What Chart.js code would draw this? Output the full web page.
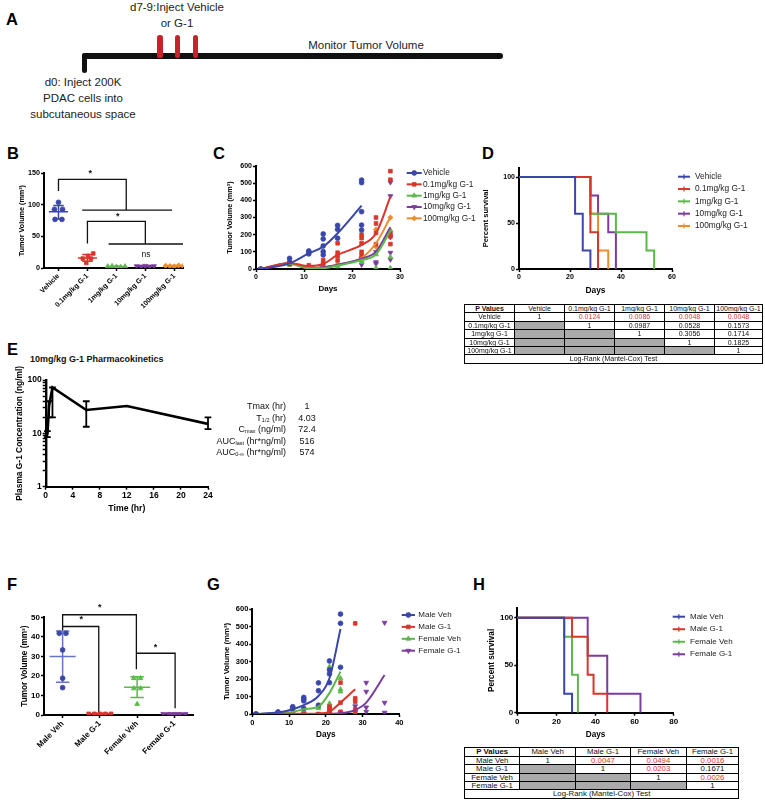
<!DOCTYPE html>
<html><head><meta charset="utf-8">
<title>G-1 PDAC figure</title>
<script src="https://cdn.jsdelivr.net/npm/chart.js@4.4.1/dist/chart.umd.min.js"></script>
<style>
html,body{margin:0;padding:0;background:#fff;}
body{position:relative;width:765px;height:809px;overflow:hidden;font-family:"Liberation Sans",Arial,Helvetica,sans-serif;color:#111;}
canvas{position:absolute;}
.L{position:absolute;font-weight:bold;font-size:16.5px;line-height:17px;color:#000;}
.txt{position:absolute;font-size:11.5px;line-height:16px;text-align:center;white-space:nowrap;color:#222;}
.bar{position:absolute;background:#111;border-radius:3px;}
.red{position:absolute;background:#c8232c;border-radius:2.6px;}
.cell{position:absolute;box-sizing:border-box;border:1px solid #000;text-align:center;white-space:nowrap;overflow:hidden;color:#111;background:#fff;}
.st{position:absolute;font-size:9px;line-height:11.4px;white-space:nowrap;color:#111;}
.st sub{font-size:5.5px;line-height:0;vertical-align:-1px;}
.ttl{position:absolute;font-weight:bold;font-size:9px;white-space:nowrap;color:#111;}
</style></head><body>

<!-- Panel A schematic -->
<div class="L" style="left:6px;top:10.5px">A</div>
<div class="txt" style="left:117px;top:-0.7px;width:120px">d7-9:Inject Vehicle<br>or G-1</div>
<div class="txt" style="left:306px;top:37px;width:120px">Monitor Tumor Volume</div>
<div class="txt" style="left:23px;top:73.6px;width:120px;line-height:16.3px">d0: Inject 200K<br>PDAC cells into<br>subcutaneous space</div>
<div class="bar" style="left:81.7px;top:53.3px;width:421.6px;height:5.7px"></div>
<div class="bar" style="left:81.7px;top:53.3px;width:5.6px;height:20px"></div>
<div class="red" style="left:157.3px;top:35px;width:5.3px;height:23.3px"></div>
<div class="red" style="left:175px;top:35px;width:5.3px;height:23.3px"></div>
<div class="red" style="left:192.7px;top:35px;width:5.3px;height:23.3px"></div>

<div class="L" style="left:7px;top:145px">B</div>
<div class="L" style="left:213px;top:145px">C</div>
<div class="L" style="left:482px;top:145px">D</div>
<div class="L" style="left:7px;top:341px">E</div>
<div class="ttl" style="left:30px;top:354px">10mg/kg G-1 Pharmacokinetics</div>
<div class="L" style="left:7px;top:576px">F</div>
<div class="L" style="left:207px;top:576px">G</div>
<div class="L" style="left:473px;top:576px">H</div>

<script>
// ---------------- DATA ----------------
// Panel B
const bGroups = ['Vehicle', '0.1mg/kg G-1', '1mg/kg G-1', '10mg/kg G-1', '100mg/kg G-1'];
const bVehicle = [104, 93, 93, 77, 77];
const bG01 = [23, 19, 15, 15, 8];
const bG1 = [2.5, 3, 2, 1.5, 2.5];
const bG10 = [3, 2.5, 3.5, 2.5, 3];
const bG100 = [3.5, 3, 2.5, 4, 3];
const bMean = [89, 16, 2.3, 2.9, 3.2];
const bSdHi = [99, 21.5, 3, 3.5, 4];
const bSdLo = [77.5, 10.5, 1.6, 2.3, 2.4];
const bTicks = [0, 50, 100, 150];
const bBrackets = [
  [[0, 122], [0, 140.5], [2.34, 140.5], [2.34, 91.6]],
  [[0.82, 91.6], [3.92, 91.6]],
  [[1, 39], [1, 74], [3, 74], [3, 38]],
  [[1.73, 38], [4.3, 38]]
];
const bMarks = [['*', 1.1, 149.5], ['*', 2.05, 82], ['ns', 3.02, 20.5]];

// Panel C
const cDays = [1, 7, 11, 14, 17, 22, 25, 28];
const cTicksX = [0, 10, 20, 30];
const cTicksY = [0, 100, 200, 300, 400, 500, 600];
const cFitVehicle = [0, 33, 91, 130, 208, 369, null, null];
const cFit01 = [0, 35, 17, 29, 82, 140, 208, 421];
const cFit1 = [0, 30, 5, 5, 20, 52, 85, 223];
const cFit10 = [0, 33, 5, 10, 25, 60, 101, 243];
const cFit100 = [0, 30, 5, 10, 25, 65, 150, 301];
const cPtsVehicle = [[0], [62, 38, 33], [105, 98, 88], [204, 175, 134, 101, 82], [254, 231, 179], [518, 503, 334, 256, 227], [], []];
const cPts01 = [[0], [40, 28], [22, 10], [52, 35, 20, 8], [150, 95, 75, 50], [200, 180, 150, 100, 80], [300, 265, 210, 145], [570, 520, 205, 190, 145]];
const cPts1 = [[0], [30, 25], [3], [5], [15], [50, 40], [85, 5], [225, 70, 5]];
const cPts10 = [[0], [35], [5], [8], [20], [60, 25], [100, 40, 30], [505, 425, 185, 95, 55]];
const cPts100 = [[0], [30], [5], [10], [25], [70], [230, 130], [300, 220]];
const cLabels = ['Vehicle', '0.1mg/kg G-1', '1mg/kg G-1', '10mg/kg G-1', '100mg/kg G-1'];

// Panel D (Kaplan-Meier)
const dTicksX = [0, 20, 40, 60];
const survTicks = [0, 50, 100];
const dVehT = [0, 22, 25, 28], dVehS = [100, 60, 20, 0];
const d01T = [0, 28, 31], d01S = [100, 40, 0];
const d1T = [0, 28, 38, 50, 53], d1S = [100, 60, 40, 20, 0];
const d10T = [0, 28, 31, 35, 38], d10S = [100, 80, 60, 40, 0];
const d100T = [0, 28, 31, 35], d100S = [100, 60, 20, 0];
const dHeader = ['P Values', 'Vehicle', '0.1mg/kg G-1', '1mg/kg G-1', '10mg/kg G-1', '100mg/kg G-1'];
const dRows = [
  ['Vehicle', '1', '0.0124', '0.0086', '0.0048', '0.0048'],
  ['0.1mg/kg G-1', '', '1', '0.0987', '0.0528', '0.1573'],
  ['1mg/kg G-1', '', '', '1', '0.3056', '0.1714'],
  ['10mg/kg G-1', '', '', '', '1', '0.1825'],
  ['100mg/kg G-1', '', '', '', '', '1']
];
const testName = 'Log-Rank (Mantel-Cox) Test';

// Panel E (PK)
const eTime = [0.25, 0.5, 1, 6, 12, 24];
const eConc = [9.5, 33, 72.4, 27.4, 32.5, 15];
const eSdLo = [8.5, 20, 20, 13.3, null, 12];
const eSdHi = [11, 40, 72.4, 40, null, 20];
const eTicksX = [0, 4, 8, 12, 16, 20, 24];
const eTicksY = [1, 2, 3, 4, 5, 6, 7, 8, 9, 10, 20, 30, 40, 50, 60, 70, 80, 90, 100];
const eTickLabels = [1, 10, 100];
const eStatLabels = ['Tmax (hr)', 'T<sub>1/2</sub> (hr)', 'C<sub>max</sub> (ng/ml)', 'AUC<sub>last</sub> (hr*ng/ml)', 'AUC<sub>0-∞</sub> (hr*ng/ml)'];
const eStatValues = ['1', '4.03', '72.4', '516', '574'];

// Panel F
const fGroups = ['Male Veh', 'Male G-1', 'Female Veh', 'Female G-1'];
const fMaleVeh = [41.8, 41.8, 33.3, 18.8, 14];
const fMaleG1 = [0.6, 0.6, 0.6, 0.6, 0.6];
const fFemaleVeh = [18.8, 18.8, 13.6, 13.6, 5.6];
const fFemaleG1 = [0.6, 0.6, 0.6, 0.6, 0.6];
const fMean = [29.9, 0.6, 14.2, 0.6];
const fSdHi = [43, 0.9, 19.6, 0.9];
const fSdLo = [16.7, 0.3, 9, 0.3];
const fTicks = [0, 10, 20, 30, 40, 50];
const fBrackets = [
  [[0, 43.2], [0, 45.3], [0.97, 45.3], [0.97, 0.5]],
  [[0, 45.3], [0, 51.3], [1.98, 51.3], [1.98, 23.4]],
  [[1.98, 31.6], [3.02, 31.6], [3.02, 3.4]]
];
const fMarks = [['*', 0.5, 49], ['*', 1.0, 55], ['*', 2.49, 34.7]];

// Panel G
const gDays = [1, 7, 11, 14, 18, 21, 24, 28, 31, 36];
const gTicksX = [0, 10, 20, 30, 40];
const gTicksY = [0, 100, 200, 300, 400, 500, 600];
const gFitMaleVeh = [0, 8, 27, 51, 103, 204, 486, null, null, null];
const gFitMaleG1 = [0, 3, 1, 1, 2, 13, 65, 141, null, null];
const gFitFemaleVeh = [0, 5, 12, 27, 42, 120, 242, null, null, null];
const gFitFemaleG1 = [0, 1, 0, 0, 0, 1, 4, 23, 65, 223];
const gPtsMaleVeh = [[0], [12, 8], [42, 35, 30], [95, 85, 75, 32], [178, 133, 50], [303, 252, 229, 179], [571, 518, 267], [], [], []];
const gPtsMaleG1 = [[0], [5], [0], [0], [0], [42, 29, 19, 4], [179, 65, 13, 4], [518, 90, 71, 27, 8], [], []];
const gPtsFemaleVeh = [[0], [5], [10], [20], [42, 33], [270, 60, 45], [204, 141, 128], [], [], []];
const gPtsFemaleG1 = [[0], [0], [0], [0], [0], [0], [5], [45, 10], [179, 128, 38, 13], [522, 65, 8]];
const gLabels = ['Male Veh', 'Male G-1', 'Female Veh', 'Female G-1'];

// Panel H
const hTicksX = [0, 20, 40, 60, 80];
const hMaleVehT = [0, 24, 28], hMaleVehS = [100, 20, 0];
const hMaleG1T = [0, 28, 36, 39, 46], hMaleG1S = [100, 80, 40, 20, 0];
const hFemVehT = [0, 24, 28, 31], hFemVehS = [100, 80, 40, 0];
const hFemG1T = [0, 36, 46, 63], hFemG1S = [100, 60, 20, 0];
const hHeader = ['P Values', 'Male Veh', 'Male G-1', 'Female Veh', 'Female G-1'];
const hRows = [
  ['Male Veh', '1', '0.0047', '0.0494', '0.0016'],
  ['Male G-1', '', '1', '0.0203', '0.1671'],
  ['Female Veh', '', '', '1', '0.0026'],
  ['Female G-1', '', '', '', '1']
];

// ---------------- STYLE ----------------
const FF = '"Liberation Sans", Arial, Helvetica, sans-serif';
const STY = {
  blue:   {c: '#3a46a8', p: 'circle',   r: 2.4, rot: 0},
  red:    {c: '#d9362b', p: 'rect',     r: 2.6, rot: 0},
  green:  {c: '#5cb84a', p: 'triangle', r: 2.8, rot: 0},
  purple: {c: '#7b3c9e', p: 'triangle', r: 2.8, rot: 180},
  orange: {c: '#ee8c2a', p: 'rectRot',  r: 2.6, rot: 0}
};
const jitVeh = [0, -0.14, 0.14, -0.12, 0.12];
const jit01 = [0.2, 0.02, -0.16, 0.12, -0.04];
const jitLow = [-0.3, -0.15, 0, 0.15, 0.3];
const jitPair = [-0.09, 0.09, 0, 0, 0];
const jitPair2 = [-0.09, 0.09, -0.09, 0.09, 0];

Chart.defaults.font.family = FF;
Chart.defaults.color = '#000';

const extras = {
  id: 'extras',
  afterDatasetsDraw(chart, args, o) {
    const ctx = chart.ctx, xs = chart.scales.x, ys = chart.scales.y;
    ctx.save();
    (o.marks || []).forEach(m => {
      ctx.font = m[0] === 'ns' ? `8.5px ${FF}` : `bold 9px ${FF}`;
      ctx.fillStyle = '#111'; ctx.textAlign = 'center'; ctx.textBaseline = 'middle';
      ctx.fillText(m[0], xs.getPixelForValue(m[1]), ys.getPixelForValue(m[2]));
    });
    const L = o.legend;
    if (L) {
      L.items.forEach((it, i) => {
        const y = L.y + i * L.dy, st = it.style;
        ctx.strokeStyle = st.c; ctx.fillStyle = st.c; ctx.lineWidth = 2;
        ctx.beginPath(); ctx.moveTo(L.x, y); ctx.lineTo(L.x + L.len, y); ctx.stroke();
        const cx = L.x + L.len / 2;
        if (L.tick) {
          ctx.lineWidth = 1.2; ctx.beginPath(); ctx.moveTo(cx, y - 2.5); ctx.lineTo(cx, y + 2.5); ctx.stroke();
        } else if (Chart.helpers && Chart.helpers.drawPoint) {
          ctx.lineWidth = 0.8;
          Chart.helpers.drawPoint(ctx, {pointStyle: st.p, radius: st.r, rotation: st.rot, borderWidth: 0.8}, cx, y);
        } else {
          ctx.beginPath(); ctx.arc(cx, y, st.r, 0, Math.PI * 2); ctx.fill();
        }
        ctx.fillStyle = '#222'; ctx.font = L.font; ctx.textAlign = 'left'; ctx.textBaseline = 'middle';
        ctx.fillText(it.label, L.tx, y);
      });
    }
    ctx.restore();
  }
};
Chart.register(extras);

function axis(o) {
  return {
    type: o.type || 'linear', min: o.min, max: o.max,
    afterBuildTicks: s => { s.ticks = o.ticks.map(v => ({value: v})); },
    grid: {display: true, drawOnChartArea: false, drawTicks: true, tickLength: 3,
      tickWidth: o.tw || 1.5, tickColor: '#000'},
    border: {display: true, color: '#000', width: o.bw || 2},
    ticks: {color: '#000', font: {family: FF, size: o.fs, weight: 'bold'}, padding: o.pad == null ? 1 : o.pad,
      autoSkip: false, minRotation: o.rot || 0, maxRotation: o.rot || 0,
      callback: o.cb || (v => String(v))},
    title: o.title ? {display: true, text: o.title, color: '#000',
      font: {family: FF, size: o.tfs, weight: 'bold'}, padding: {top: o.tp || 0, bottom: o.tb || 0}} : {display: false}
  };
}

function mk(box, plot, xScale, yScale, datasets, plug) {
  const [x0, y0, x1, y1] = box, [pl, pt, pr, pb] = plot;
  const cv = document.createElement('canvas');
  cv.width = x1 - x0; cv.height = y1 - y0;
  cv.style.left = x0 + 'px'; cv.style.top = y0 + 'px';
  document.body.appendChild(cv);
  xScale.afterFit = s => { s.height = y1 - pb; };
  yScale.afterFit = s => { s.width = pl - x0; };
  plug = plug || {};
  if (plug.legend) { plug.legend.x -= x0; plug.legend.tx -= x0; plug.legend.y -= y0; }
  return new Chart(cv, {
    type: 'line',
    data: {datasets},
    options: {
      responsive: false, animation: false, devicePixelRatio: 1,
      layout: {padding: {left: 0, top: pt - y0, right: x1 - pr, bottom: 0}},
      scales: {x: xScale, y: yScale},
      plugins: {legend: {display: false}, tooltip: {enabled: false}, extras: plug},
      elements: {point: {radius: 0}}
    }
  });
}

function colDS(idx, vals, st, jit) {
  return {data: vals.map((y, k) => ({x: idx + (jit[k] || 0), y})), showLine: false,
    pointStyle: st.p, pointRadius: st.r, pointRotation: st.rot,
    pointBackgroundColor: st.c, pointBorderColor: st.c, pointBorderWidth: 0.8, borderColor: st.c};
}
function ptsDS(xs, vals, st) {
  const data = [];
  xs.forEach((x, i) => (vals[i] || []).forEach(y => data.push({x, y})));
  return {data, showLine: false, pointStyle: st.p, pointRadius: st.r, pointRotation: st.rot,
    pointBackgroundColor: st.c, pointBorderColor: st.c, pointBorderWidth: 0.8, borderColor: st.c};
}
function fitDS(xs, ys, st) {
  const data = [];
  xs.forEach((x, i) => { if (ys[i] != null) data.push({x, y: ys[i]}); });
  return {data, borderColor: st.c, borderWidth: 2, pointRadius: 0, cubicInterpolationMode: 'monotone'};
}
function survDS(T, S, st) {
  return {data: T.map((t, i) => ({x: t, y: S[i]})), borderColor: st.c, borderWidth: 2, pointRadius: 0, stepped: 'before'};
}
function errDS(xc, mean, lo, hi, hw, cw, color, lw) {
  const d = [];
  if (hw) d.push({x: xc - hw, y: mean}, {x: xc + hw, y: mean}, {x: xc, y: null});
  d.push({x: xc - cw, y: hi}, {x: xc + cw, y: hi}, {x: xc, y: null});
  d.push({x: xc - cw, y: lo}, {x: xc + cw, y: lo}, {x: xc, y: null});
  d.push({x: xc, y: lo}, {x: xc, y: hi});
  return {data: d, borderColor: color, borderWidth: lw, pointRadius: 0, tension: 0, spanGaps: false, clip: false};
}
function bracketDS(pts) {
  return {data: pts.map(p => ({x: p[0], y: p[1]})), borderColor: '#111', borderWidth: 1.3, pointRadius: 0, tension: 0, clip: false};
}

// ---------------- PANEL B ----------------
(function () {
  const groups = [bVehicle, bG01, bG1, bG10, bG100];
  const sty = [STY.blue, STY.red, STY.green, STY.purple, STY.orange];
  const jits = [jitVeh, jit01, jitLow, jitLow, jitLow];
  const ds = [];
  groups.forEach((g, i) => ds.push(colDS(i, g, sty[i], jits[i])));
  groups.forEach((g, i) => ds.push(errDS(i, bMean[i], bSdLo[i], bSdHi[i], 0.33, 0.18, sty[i].c, 1.5)));
  bBrackets.forEach(b => ds.push(bracketDS(b)));
  mk([0, 160, 192, 312], [44, 173.3, 183, 268],
    axis({min: -0.5, max: 4.3, ticks: [0, 1, 2, 3, 4], cb: v => bGroups[v], fs: 7, rot: 45}),
    axis({min: 0, max: 150, ticks: bTicks, fs: 7.2, title: 'Tumor Volume (mm³)', tfs: 7.2, tp: 17.4}),
    ds, {marks: bMarks});
})();

// ---------------- PANEL C ----------------
(function () {
  const fits = [cFitVehicle, cFit01, cFit1, cFit10, cFit100];
  const pts = [cPtsVehicle, cPts01, cPts1, cPts10, cPts100];
  const sty = [STY.blue, STY.red, STY.green, STY.purple, STY.orange];
  const ds = [];
  fits.forEach((f, i) => ds.push(fitDS(cDays, f, sty[i])));
  pts.forEach((p, i) => ds.push(ptsDS(cDays, p, sty[i])));
  mk([224, 150, 480, 296], [256, 166, 400, 269],
    axis({min: 0, max: 30, ticks: cTicksX, fs: 7, title: 'Days', tfs: 8, tb: 2.9}),
    axis({min: 0, max: 600, ticks: cTicksY, fs: 7, title: 'Tumor Volume (mm³)', tfs: 7.3, tp: 2.1}),
    ds, {legend: {x: 406.7, len: 15, tx: 423, y: 173, dy: 11.33, font: `8.3px ${FF}`,
      items: cLabels.map((l, i) => ({label: l, style: sty[i]}))}});
})();

// ---------------- PANEL D ----------------
(function () {
  const sty = [STY.blue, STY.red, STY.green, STY.purple, STY.orange];
  const ds = [survDS(dVehT, dVehS, sty[0]), survDS(d01T, d01S, sty[1]), survDS(d1T, d1S, sty[2]),
    survDS(d10T, d10S, sty[3]), survDS(d100T, d100S, sty[4])];
  mk([478, 150, 765, 296], [519, 167.8, 672, 269],
    axis({min: 0, max: 60, ticks: dTicksX, fs: 7, title: 'Days', tfs: 8.4, tb: 0.3}),
    axis({min: 0, max: 110, ticks: survTicks, fs: 7, title: 'Percent survival', tfs: 7.5, tp: 3.9}),
    ds, {legend: {x: 678, len: 12, tx: 695, y: 176.7, dy: 12.33, font: `8.3px ${FF}`, tick: true,
      items: cLabels.map((l, i) => ({label: l, style: sty[i]}))}});
})();

// ---------------- PANEL E ----------------
(function () {
  const ds = [{data: eTime.map((t, i) => ({x: t, y: eConc[i]})), borderColor: '#000', borderWidth: 2.6, pointRadius: 0, tension: 0}];
  eTime.forEach((t, i) => { if (eSdLo[i] != null) ds.push(errDS(t, eConc[i], eSdLo[i], eSdHi[i], 0, 0.5, '#000', 1.8)); });
  mk([0, 356, 232, 516], [45.7, 380, 208, 486.7],
    axis({min: 0, max: 24, ticks: eTicksX, fs: 8.5, title: 'Time (hr)', tfs: 8.7, tb: 1.9, pad: 1.2}),
    axis({type: 'logarithmic', min: 1, max: 100, ticks: eTicksY,
      cb: v => eTickLabels.includes(v) ? String(v) : '', fs: 8.5,
      title: 'Plasma G-1 Concentration (ng/ml)', tfs: 8.4, tp: 14.9, bw: 2.4}),
    ds, {});
  // stats block
  const lab = document.createElement('div'); lab.className = 'st';
  Object.assign(lab.style, {left: '180px', top: '401.3px', width: '106px', textAlign: 'right'});
  lab.innerHTML = eStatLabels.join('<br>');
  document.body.appendChild(lab);
  const val = document.createElement('div'); val.className = 'st';
  Object.assign(val.style, {left: '292px', top: '401.3px', width: '30px', textAlign: 'center'});
  val.innerHTML = eStatValues.join('<br>');
  document.body.appendChild(val);
})();

// ---------------- PANEL F ----------------
(function () {
  const groups = [fMaleVeh, fMaleG1, fFemaleVeh, fFemaleG1];
  const sty = [STY.blue, STY.red, STY.green, STY.purple];
  const barCol = ['#6473c4', STY.red.c, STY.green.c, STY.purple.c];
  const jits = [jitPair, jitLow, jitPair2, jitLow];
  const ds = [];
  groups.forEach((g, i) => ds.push(colDS(i, g, sty[i], jits[i])));
  groups.forEach((g, i) => ds.push(errDS(i, fMean[i], fSdLo[i], fSdHi[i], 0.35, 0.18, barCol[i], 1.5)));
  fBrackets.forEach(b => ds.push(bracketDS(b)));
  mk([0, 598, 200, 756], [44, 617.3, 193, 715],
    axis({min: -0.5, max: 3.5, ticks: [0, 1, 2, 3], cb: v => fGroups[v], fs: 8, rot: 45}),
    axis({min: 0, max: 50, ticks: fTicks, fs: 8, title: 'Tumor Volume (mm³)', tfs: 8.2, tp: 20.1}),
    ds, {marks: fMarks});
})();

// ---------------- PANEL G ----------------
(function () {
  const fits = [gFitMaleVeh, gFitMaleG1, gFitFemaleVeh, gFitFemaleG1];
  const pts = [gPtsMaleVeh, gPtsMaleG1, gPtsFemaleVeh, gPtsFemaleG1];
  const sty = [STY.blue, STY.red, STY.green, STY.purple];
  const ds = [];
  fits.forEach((f, i) => ds.push(fitDS(gDays, f, sty[i])));
  pts.forEach((p, i) => ds.push(ptsDS(gDays, p, sty[i])));
  mk([218, 598, 476, 742], [252.3, 609, 399.3, 714],
    axis({min: 0, max: 40, ticks: gTicksX, fs: 7.5, title: 'Days', tfs: 8.2, tb: 2.8}),
    axis({min: 0, max: 600, ticks: gTicksY, fs: 7.5, title: 'Tumor Volume (mm³)', tfs: 7.8, tp: 4.3}),
    ds, {legend: {x: 401.7, len: 13.3, tx: 418.3, y: 615, dy: 11.9, font: `8px ${FF}`,
      items: gLabels.map((l, i) => ({label: l, style: sty[i]}))}});
})();

// ---------------- PANEL H ----------------
(function () {
  const sty = [STY.blue, STY.red, STY.green, STY.purple];
  const ds = [survDS(hMaleVehT, hMaleVehS, sty[0]), survDS(hMaleG1T, hMaleG1S, sty[1]),
    survDS(hFemVehT, hFemVehS, sty[2]), survDS(hFemG1T, hFemG1S, sty[3])];
  mk([482, 598, 765, 742], [517.3, 608.2, 673.7, 712.7],
    axis({min: 0, max: 80, ticks: hTicksX, fs: 8, title: 'Days', tfs: 8.2, tb: 2.8, pad: 1.2}),
    axis({min: 0, max: 110, ticks: survTicks, fs: 8, title: 'Percent survival', tfs: 8.2, tp: 4.8}),
    ds, {legend: {x: 672.7, len: 12.3, tx: 690, y: 616.7, dy: 12.53, font: `8px ${FF}`, tick: true,
      items: gLabels.map((l, i) => ({label: l, style: sty[i]}))}});
})();

// ---------------- TABLES ----------------
function table(xe, ye, header, rows, footer, fs) {
  const all = [header].concat(rows);
  all.forEach((r, j) => r.forEach((txt, i) => {
    const d = document.createElement('div'); d.className = 'cell';
    const w = xe[i + 1] - xe[i], h = ye[j + 1] - ye[j];
    Object.assign(d.style, {left: xe[i] + 'px', top: ye[j] + 'px', width: (w + 1) + 'px', height: (h + 1) + 'px',
      fontSize: fs + 'px', lineHeight: (h - 1) + 'px'});
    if (j > 0 && i > 0 && txt === '') d.style.background = '#aaaaaa';
    if (j === 0 && i === 0) d.style.fontWeight = 'bold';
    if (j > 0 && i > 0 && txt !== '' && parseFloat(txt) < 0.05) d.style.color = '#e2362a';
    d.textContent = txt;
    document.body.appendChild(d);
  }));
  const n = all.length, h = ye[n + 1] - ye[n];
  const f = document.createElement('div'); f.className = 'cell';
  Object.assign(f.style, {left: xe[0] + 'px', top: ye[n] + 'px', width: (xe[xe.length - 1] - xe[0] + 1) + 'px',
    height: (h + 1) + 'px', fontSize: fs + 'px', lineHeight: (h - 1) + 'px'});
  f.textContent = footer;
  document.body.appendChild(f);
}
table([464, 514, 564, 614, 664, 714, 762], [304, 312.4, 320.8, 329.2, 337.6, 346, 354.4, 363.4], dHeader, dRows, testName, 7);
table([464, 519.3, 575, 630, 685.7, 738.3], [746.7, 756, 764.3, 772.7, 781, 789.3, 798.3], hHeader, hRows, testName, 7.8);
</script>
</body></html>
